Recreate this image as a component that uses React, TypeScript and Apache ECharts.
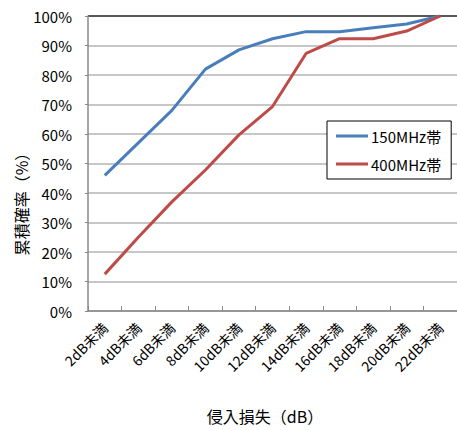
import React, { useEffect, useRef } from "react";
import * as echarts from "echarts";

const categories = ["2dB未満", "4dB未満", "6dB未満", "8dB未満", "10dB未満", "12dB未満", "14dB未満", "16dB未満", "18dB未満", "20dB未満", "22dB未満"];
const series150 = [46, 57, 68, 82, 88.5, 92.3, 94.7, 94.7, 96, 97.3, 100];
const series400 = [12.5, 25, 37, 47.8, 59.7, 69.3, 87.3, 92.3, 92.3, 94.9, 100];
const seriesNames = ["150MHz帯", "400MHz帯"];
const yTitle = "累積確率（%）";
const xTitle = "侵入損失（dB）";

const FONT = "'Noto Sans CJK JP', 'Noto Sans', sans-serif";

export default function App() {
  const ref = useRef<HTMLDivElement>(null);
  useEffect(() => {
    if (!ref.current) return;
    const chart = echarts.init(ref.current, undefined, { renderer: "svg" });
    const gridColors = Array(10).fill("#b4b4b4").concat(["#222222"]);
    chart.setOption({
      animation: false,
      textStyle: { fontFamily: FONT },
      grid: { left: 88, top: 16, right: -7, bottom: 119, containLabel: false },
      legend: {
        orient: "vertical",
        left: 327,
        top: 121,
        padding: [6, 10, 6, 9],
        itemGap: 10,
        itemWidth: 32,
        itemHeight: 3,
        icon: "rect",
        borderColor: "#000",
        borderWidth: 1,
        backgroundColor: "#fff",
        textStyle: { fontFamily: FONT, fontSize: 15, color: "#000", lineHeight: 18, padding: [0, 0, 0, -2] },
        data: seriesNames,
      },
      xAxis: {
        type: "category",
        data: categories,
        boundaryGap: true,
        axisLine: { lineStyle: { color: "#888", width: 1.5 } },
        axisTick: { show: true, inside: true, length: 5, lineStyle: { color: "#888" } },
        axisLabel: { rotate: 45, fontSize: 14, color: "#000", margin: 14, interval: 0, fontFamily: FONT },
        splitLine: { show: false },
      },
      yAxis: {
        type: "value",
        min: 0,
        max: 100,
        interval: 10,
        axisLine: { show: true, lineStyle: { color: "#888", width: 1.5 } },
        axisTick: { show: true, length: 3, lineStyle: { color: "#888" } },
        axisLabel: { formatter: "{value}%", fontSize: 15, color: "#000", margin: 16, fontFamily: FONT },
        splitLine: { show: true, lineStyle: { color: gridColors, width: 1.5 } },
      },
      series: [
        {
          name: seriesNames[0],
          type: "line",
          data: series150,
          symbol: "none",
          lineStyle: { color: "#4a7ebb", width: 3 },
          itemStyle: { color: "#4a7ebb" },
        },
        {
          name: seriesNames[1],
          type: "line",
          data: series400,
          symbol: "none",
          lineStyle: { color: "#be4b48", width: 3 },
          itemStyle: { color: "#be4b48" },
        },
      ],
      graphic: [
        {
          type: "text",
          x: 21,
          y: 200,
          rotation: Math.PI / 2,
          style: { text: yTitle, fontSize: 16, fontFamily: FONT, fill: "#000", textAlign: "center", textVerticalAlign: "middle" },
        },
        {
          type: "text",
          x: 265,
          y: 416,
          style: { text: xTitle, fontSize: 16, fontFamily: FONT, fill: "#000", textAlign: "center", textVerticalAlign: "middle" },
        },
      ],
    });
    return () => chart.dispose();
  }, []);
  return <div ref={ref} style={{ position: "absolute", left: 0, top: 0, width: 457, height: 430 }} />;
}
